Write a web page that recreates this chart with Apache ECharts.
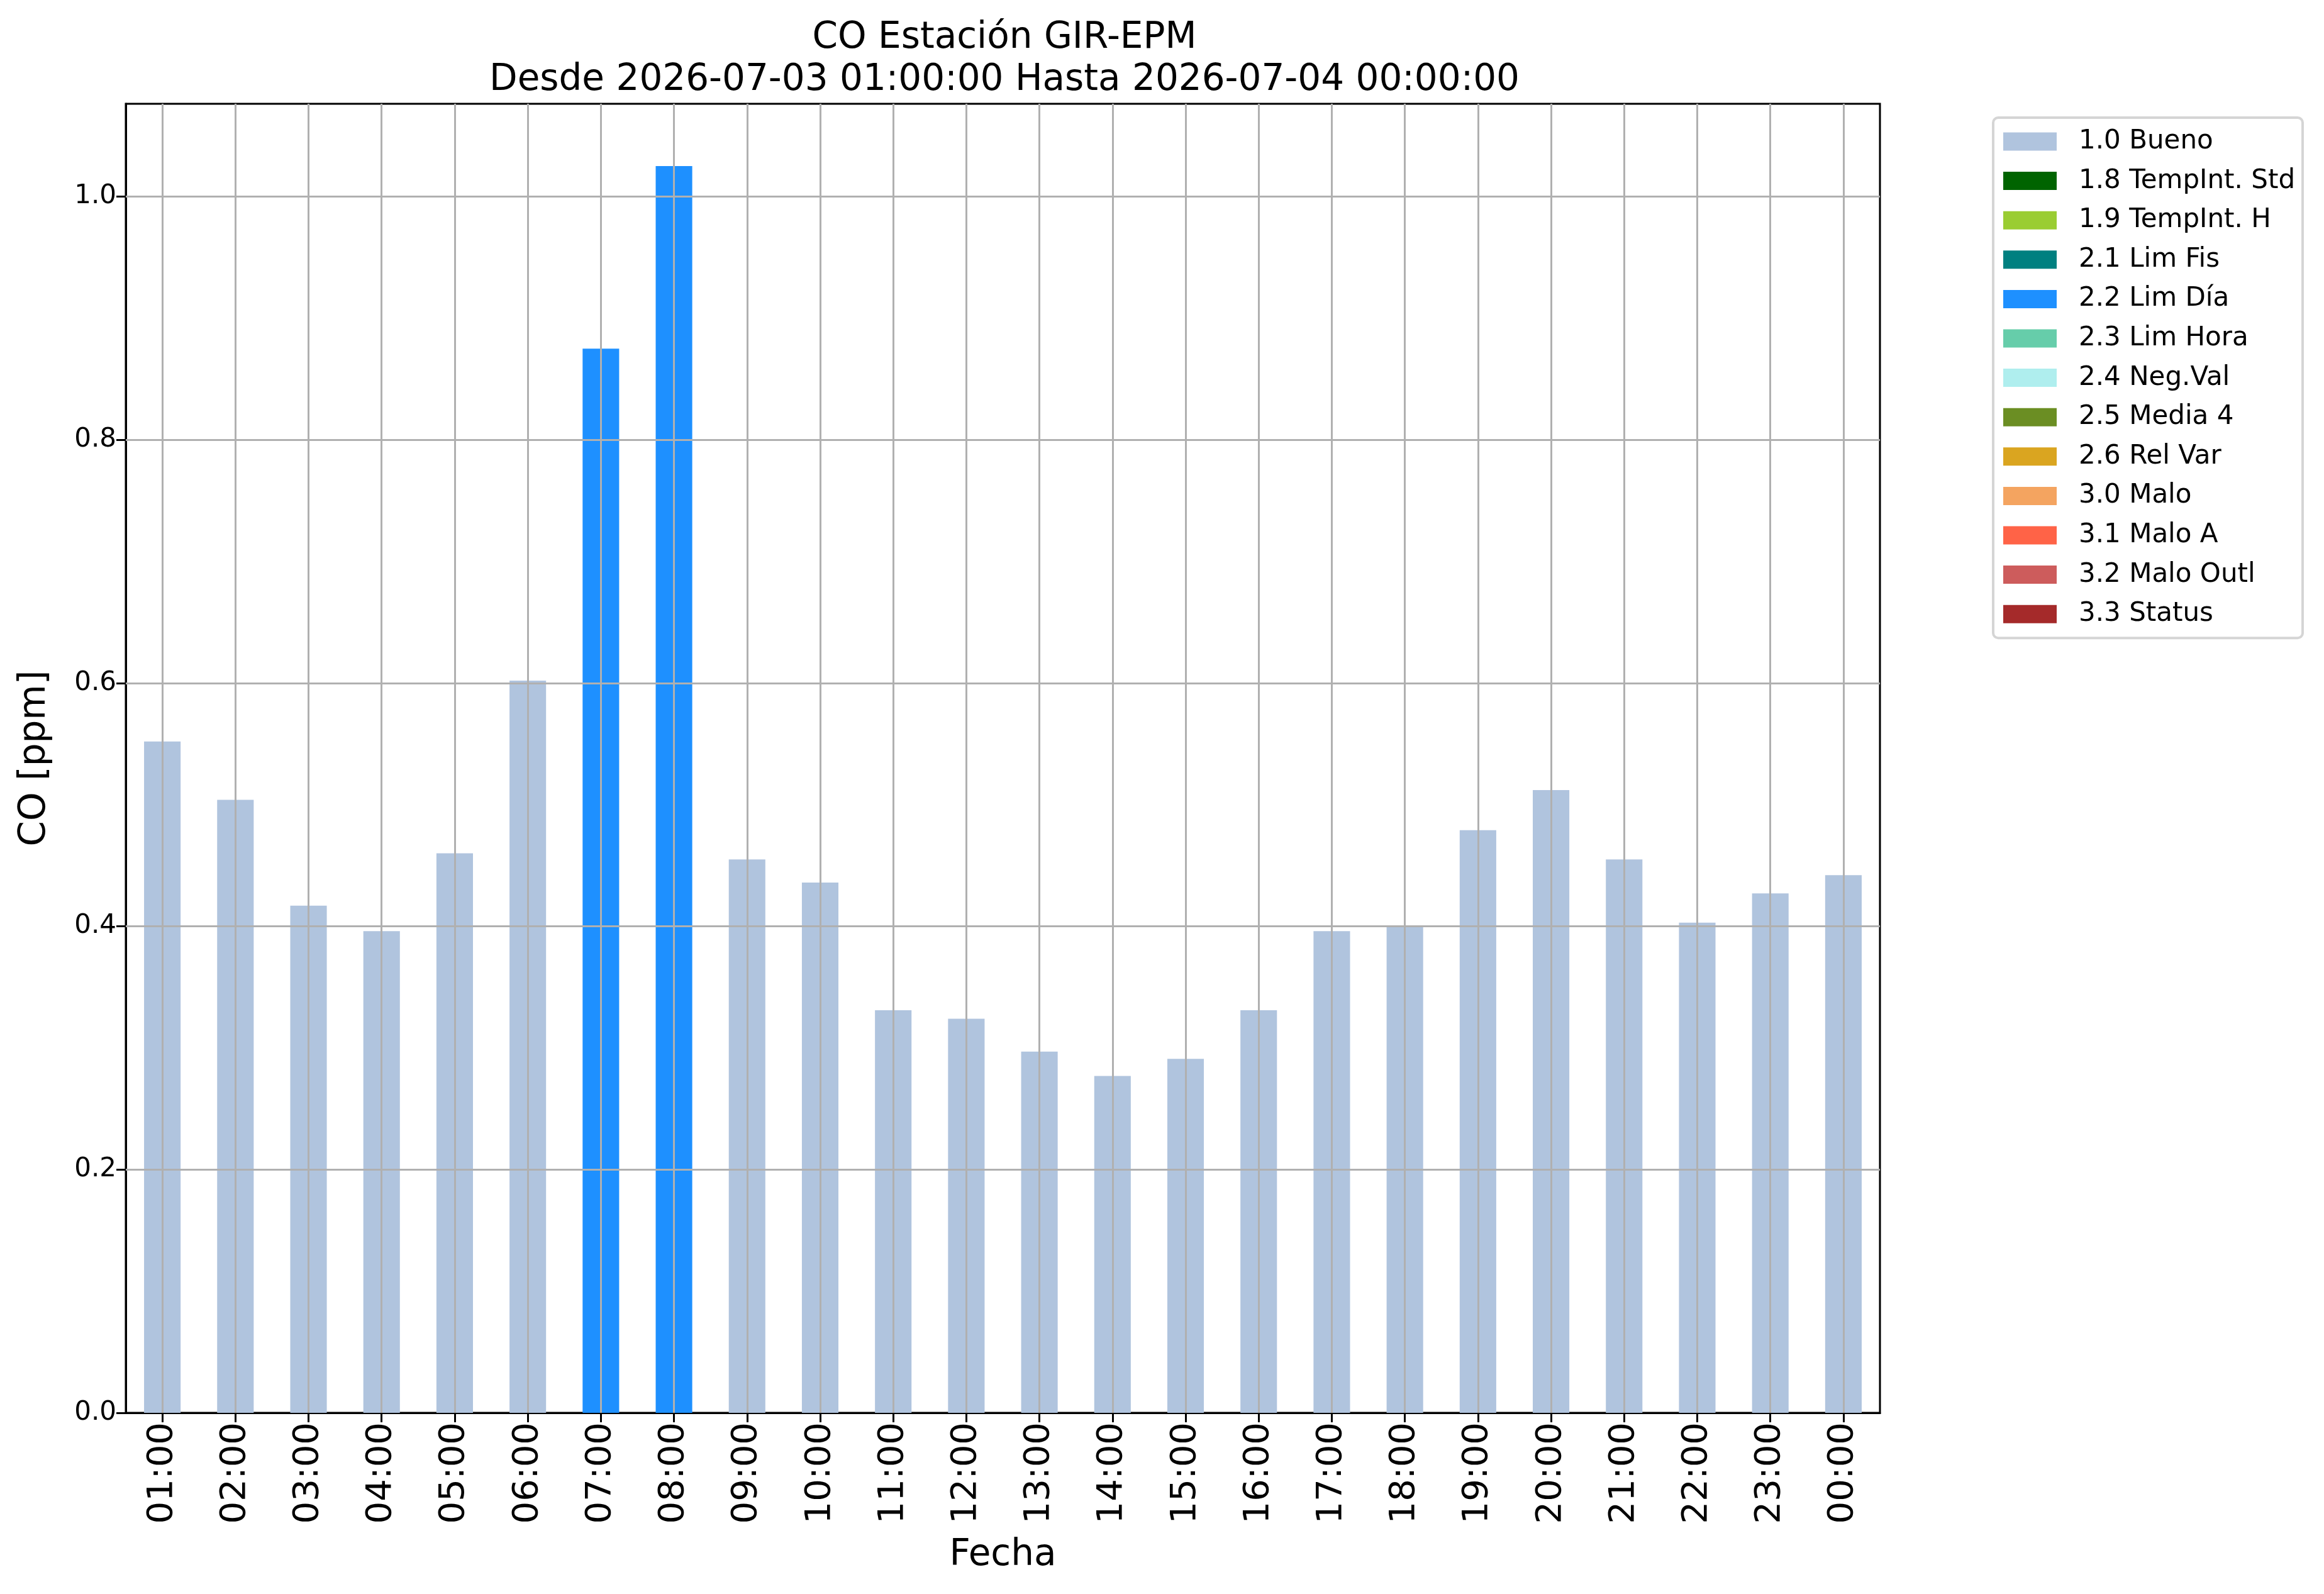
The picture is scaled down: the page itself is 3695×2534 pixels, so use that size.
<!DOCTYPE html>
<html>
<head>
<meta charset="utf-8">
<script src="https://cdn.jsdelivr.net/npm/echarts@6/dist/echarts.min.js"></script>
<style>
html,body{margin:0;padding:0;background:#fff;}
#chart{width:3695px;height:2534px;}
</style>
</head>
<body>
<div id="chart"></div>
<script>
const categories = ['01:00','02:00','03:00','04:00','05:00','06:00','07:00','08:00','09:00','10:00','11:00','12:00',
  '13:00','14:00','15:00','16:00','17:00','18:00','19:00','20:00','21:00','22:00','23:00','00:00'];
const values = [0.552,0.504,0.417,0.396,0.460,0.602,0.875,1.025,0.455,0.436,0.331,0.324,
  0.297,0.277,0.291,0.331,0.396,0.400,0.479,0.512,0.455,0.403,0.427,0.442];
const flags = ['1.0 Bueno','1.0 Bueno','1.0 Bueno','1.0 Bueno','1.0 Bueno','1.0 Bueno','2.2 Lim Día','2.2 Lim Día',
  '1.0 Bueno','1.0 Bueno','1.0 Bueno','1.0 Bueno','1.0 Bueno','1.0 Bueno','1.0 Bueno','1.0 Bueno',
  '1.0 Bueno','1.0 Bueno','1.0 Bueno','1.0 Bueno','1.0 Bueno','1.0 Bueno','1.0 Bueno','1.0 Bueno'];
const legendNames = ['1.0 Bueno','1.8 TempInt. Std','1.9 TempInt. H','2.1 Lim Fis','2.2 Lim Día','2.3 Lim Hora',
  '2.4 Neg.Val','2.5 Media 4','2.6 Rel Var','3.0 Malo','3.1 Malo A','3.2 Malo Outl','3.3 Status'];
const legendColors = ['#B0C4DE','#006400','#9ACD32','#008080','#1E90FF','#66CDAA',
  '#AFEEEE','#6B8E23','#DAA520','#F4A460','#FF6347','#CD5C5C','#A52A2A'];
const yTicks = [0.0,0.2,0.4,0.6,0.8,1.0];
const titleText = 'CO Estación GIR-EPM\nDesde 2026-07-03 01:00:00 Hasta 2026-07-04 00:00:00';

const FONT = 'DejaVu Sans';
const yMax = Math.max(...values) * 1.05;

const series = legendNames.map((name, k) => ({
  name: name,
  type: 'bar',
  stack: 'total',
  barWidth: '50%',
  itemStyle: { color: legendColors[k] },
  data: values.map((v, i) => flags[i] === name ? v : '-'),
  animation: false
}));

series.push({
  name: 'grid',
  type: 'line',
  data: [],
  z: 20,
  silent: true,
  animation: false,
  markLine: {
    silent: true,
    symbol: ['none','none'],
    animation: false,
    label: { show: false },
    lineStyle: { color: '#b0b0b0', width: 3, type: 'solid' },
    emphasis: { disabled: true },
    data: categories.map(c => ({ xAxis: c })).concat(yTicks.filter(t => t > 0).map(t => ({ yAxis: t })))
  }
});

const chart = echarts.init(document.getElementById('chart'), null, { renderer: 'canvas', devicePixelRatio: 1 });
chart.setOption({
  backgroundColor: '#ffffff',
  animation: false,
  title: {
    text: titleText,
    left: 1592,
    top: 22,
    textAlign: 'center',
    textStyle: { fontFamily: FONT, fontSize: 58, fontWeight: 'normal', color: '#000', lineHeight: 67 }
  },
  legend: {
    data: legendNames,
    orient: 'vertical',
    left: 3169,
    top: 187,
    icon: 'rect',
    itemWidth: 85,
    itemHeight: 29,
    itemGap: 20.6,
    padding: [17, 12, 17, 16],
    backgroundColor: '#fff',
    borderColor: '#d5d5d5',
    borderWidth: 4,
    borderRadius: 8,
    selectedMode: false,
    textStyle: { fontFamily: FONT, fontSize: 42, color: '#000', lineHeight: 29, padding: [0, 0, 0, 30] }
  },
  grid: {
    left: 200, right: 706, top: 165, bottom: 288,
    show: true, borderColor: '#000', borderWidth: 3, backgroundColor: 'transparent'
  },
  xAxis: {
    type: 'category',
    data: categories,
    boundaryGap: true,
    name: 'Fecha',
    nameLocation: 'middle',
    nameGap: 198,
    nameTextStyle: { fontFamily: FONT, fontSize: 58, color: '#000' },
    axisLine: { show: true, lineStyle: { color: '#000', width: 3 } },
    axisTick: { show: true, alignWithLabel: true, length: 15, lineStyle: { color: '#000', width: 3 } },
    axisLabel: { rotate: 90, fontFamily: FONT, fontSize: 56, color: '#000', margin: 15, interval: 0 },
    splitLine: { show: false }
  },
  yAxis: {
    type: 'value',
    min: 0,
    max: yMax,
    name: 'CO [ppm]',
    nameLocation: 'middle',
    nameRotate: 90,
    nameGap: 115,
    nameTextStyle: { fontFamily: FONT, fontSize: 58, color: '#000' },
    axisLine: { show: true, lineStyle: { color: '#000', width: 3 } },
    axisTick: { show: true, length: 15, lineStyle: { color: '#000', width: 3 }, customValues: yTicks },
    axisLabel: { fontFamily: FONT, fontSize: 42, color: '#000', margin: 15,
      customValues: yTicks, formatter: v => Number(v).toFixed(1) },
    splitLine: { show: false }
  },
  series: series
});
</script>
</body>
</html>
